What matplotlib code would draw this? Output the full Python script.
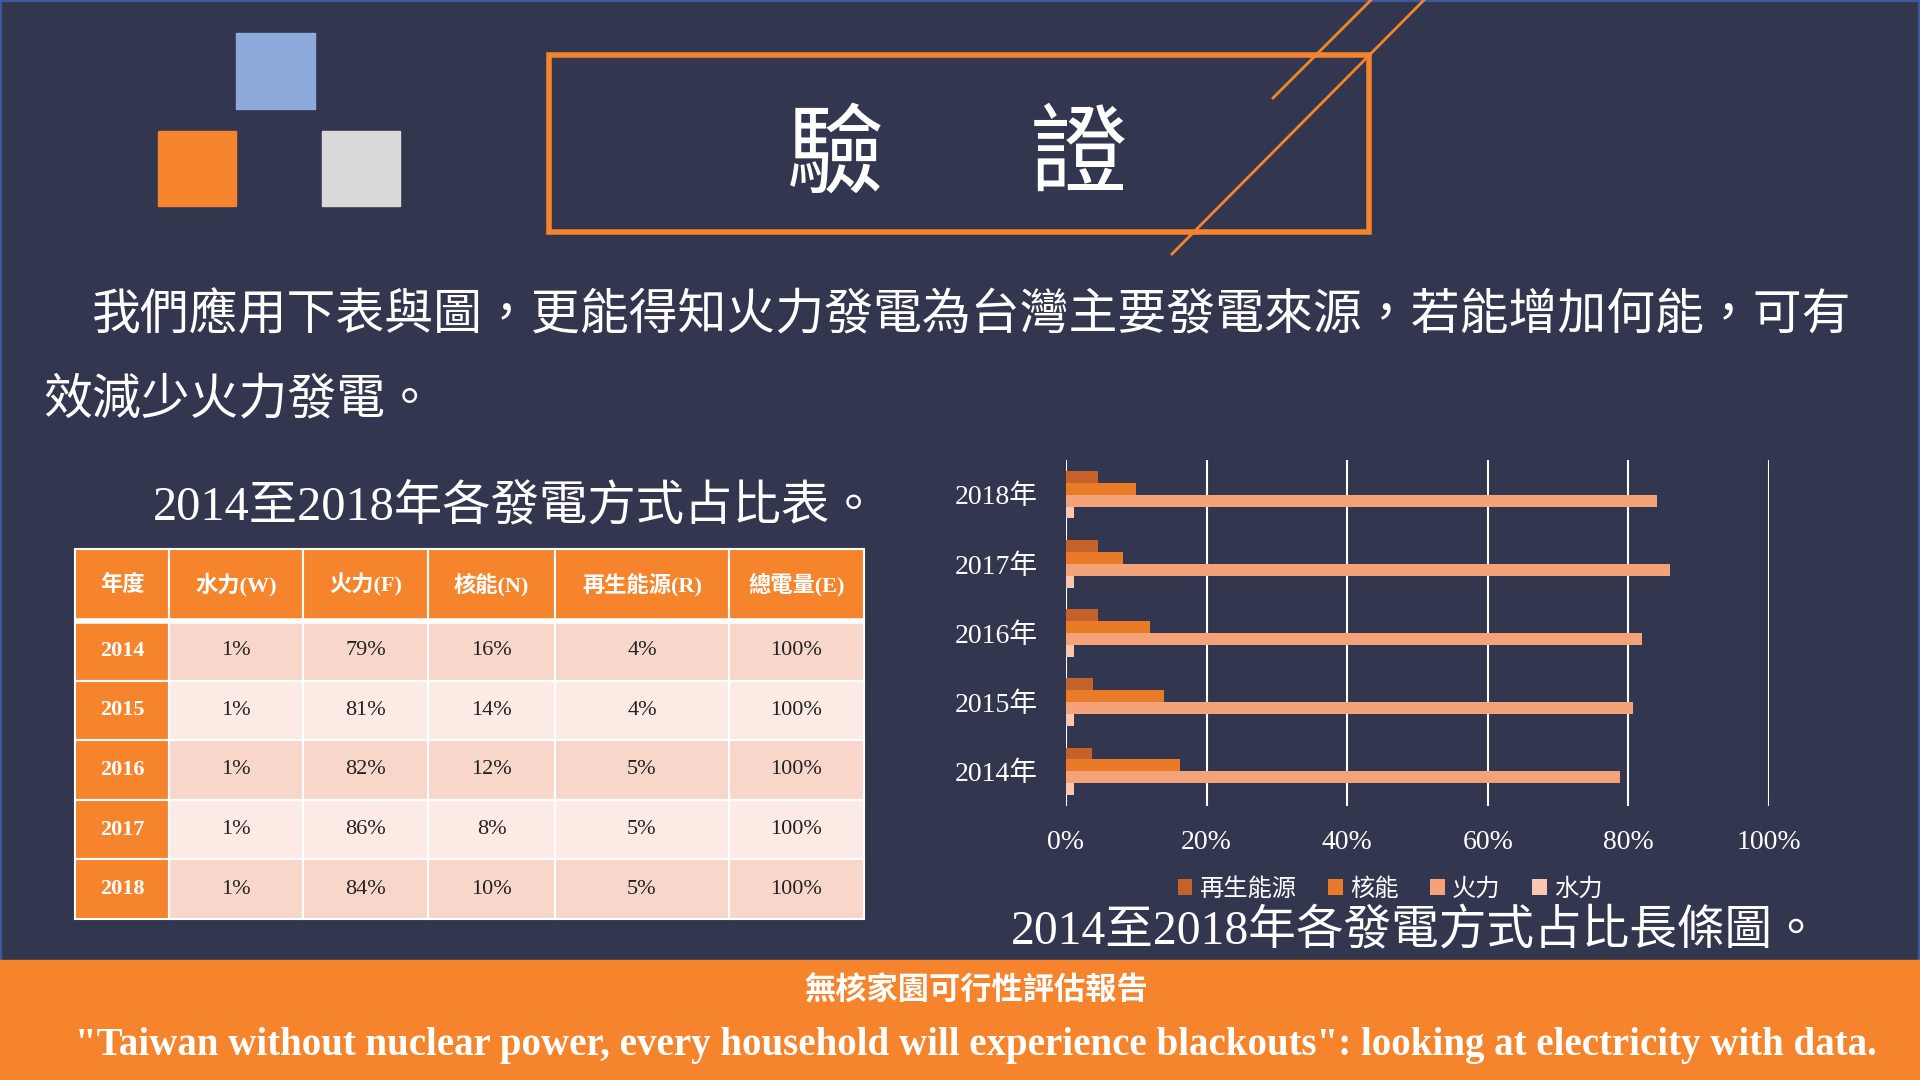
import matplotlib
matplotlib.use("Agg")
import matplotlib.pyplot as plt
import numpy as np
from matplotlib.patches import Rectangle, Patch

plt.rcParams["font.family"] = ["Liberation Serif", "Noto Sans CJK TC", "DejaVu Sans"]

BG = "#33364f"
ORANGE = "#f5842c"

# --- data ---------------------------------------------------------------
years = ["2014", "2015", "2016", "2017", "2018"]

# table: rounded shares as printed
hydro_pct = [1, 1, 1, 1, 1]
thermal_pct = [79, 81, 82, 86, 84]
nuclear_pct = [16, 14, 12, 8, 10]
renew_pct = [4, 4, 5, 5, 5]
total_pct = [100, 100, 100, 100, 100]

# bar chart: shares
renew_share = [0.037, 0.039, 0.046, 0.045, 0.045]
nuclear_share = [0.162, 0.140, 0.119, 0.081, 0.099]
thermal_share = [0.788, 0.806, 0.820, 0.859, 0.841]
hydro_share = [0.011, 0.011, 0.011, 0.011, 0.011]

table_cols = ["年度", "水力(W)", "火力(F)", "核能(N)", "再生能源(R)", "總電量(E)"]
series_names = ["再生能源", "核能", "火力", "水力"]
series_colors = ["#c5612b", "#e97a28", "#f3a377", "#f7c7b0"]

fig = plt.figure(figsize=(19.2, 10.8), dpi=100, facecolor=BG)

# %% background canvas in pixel coordinates
bg = fig.add_axes([0, 0, 1, 1])
bg.set_xlim(0, 1920)
bg.set_ylim(1080, 0)
bg.axis("off")
bg.add_patch(Rectangle((0, 0), 1920, 1080, facecolor="none", edgecolor="#3b5a9a", lw=3))

# decorative squares
bg.add_patch(Rectangle((236, 33), 79, 76, color="#8eaadc"))
bg.add_patch(Rectangle((158, 131), 78, 75, color=ORANGE))
bg.add_patch(Rectangle((322, 131), 78, 75, color="#d9d9d9"))

# title box + slashes
bg.add_patch(Rectangle((549, 55), 820, 177, facecolor="none", edgecolor=ORANGE, lw=4))
bg.plot([1273, 1371], [98, 0], color=ORANGE, lw=2)
bg.plot([1172, 1424], [254, 0], color=ORANGE, lw=2)
bg.text(957, 160, "驗　  證", color="white", fontsize=70, ha="center", va="center")

# intro paragraph
bg.text(92, 316, "我們應用下表與圖，更能得知火力發電為台灣主要發電來源，若能增加何能，可有",
        color="white", fontsize=35.2, ha="left", va="center")
bg.text(43, 400, "效減少火力發電。", color="white", fontsize=35.2, ha="left", va="center")

bg.text(153, 507, "2014至2018年各發電方式占比表。", color="white", fontsize=34.8, ha="left", va="center")
bg.text(1011, 932, "2014至2018年各發電方式占比長條圖。", color="white", fontsize=34.3, ha="left", va="center")

# footer band
bg.add_patch(Rectangle((0, 960), 1920, 120, color=ORANGE))
bg.text(976, 992, "無核家園可行性評估報告", color="white", fontsize=22.5, fontweight="bold",
        ha="center", va="center")
bg.text(976, 1045, "\"Taiwan without nuclear power, every household will experience blackouts\": "
        "looking at electricity with data.", color="white", fontsize=28, fontweight="bold",
        ha="center", va="center")

# %% table
tax = fig.add_axes([75 / 1920, 161 / 1080, 789 / 1920, 370 / 1080])
tax.axis("off")
rows = [[yr, f"{w}%", f"{f}%", f"{n}%", f"{r}%", f"{e}%"]
        for yr, w, f, n, r, e in zip(years, hydro_pct, thermal_pct, nuclear_pct, renew_pct, total_pct)]
row_fill = ["#f9d6ca", "#fcebe5"]
cell_colors = [[ORANGE] + [row_fill[i % 2]] * 5 for i in range(len(rows))]
col_w = np.array([94, 134, 125, 127, 174, 135], float)
tbl = tax.table(cellText=rows, colLabels=table_cols, cellColours=cell_colors,
                colColours=[ORANGE] * 6, colWidths=list(col_w / col_w.sum()),
                cellLoc="center", bbox=[0, 0, 1, 1])
tbl.auto_set_font_size(False)
for (r, c), cell in tbl.get_celld().items():
    cell.set_edgecolor("white")
    cell.set_linewidth(1.5)
    cell.set_height(72 if r == 0 else 59.6)
    txt = cell.get_text()
    txt.set_fontsize(16)
    if r == 0 or c == 0:
        txt.set_color("white")
        txt.set_fontweight("bold")
    else:
        txt.set_color("#222222")
tax.axhline(298 / 370, color="white", lw=4)

# %% bar chart
ax = fig.add_axes([1066 / 1920, 274 / 1080, 703 / 1920, 346 / 1080])
ax.set_facecolor("none")
y = np.arange(len(years))
h = 0.172
series = [renew_share, nuclear_share, thermal_share, hydro_share]
for vals, off, col in zip(series, [1.5, 0.5, -0.5, -1.5], series_colors):
    ax.barh(y + off * h, vals, height=h, color=col, zorder=2)
ax.set_xlim(0, 1.0)
ax.set_ylim(-0.5, 4.5)
ticks = np.linspace(0, 1, 6)
ax.set_xticks(ticks, [f"{int(round(t * 100))}%" for t in ticks])
ax.set_yticks(y, [f"{yr}年" for yr in years])
ax.xaxis.grid(True, color="white", lw=1.5, zorder=0)
for s in ax.spines.values():
    s.set_visible(False)
ax.tick_params(axis="x", length=0, colors="white", labelsize=20, pad=17)
ax.tick_params(axis="y", length=0, colors="white", labelsize=20, pad=20)

handles = [Patch(facecolor=c, label=n) for c, n in zip(series_colors, series_names)]
fig.legend(handles=handles, ncol=4, loc="center", bbox_to_anchor=(1390 / 1920, 1 - 889 / 1080),
           frameon=False, fontsize=17.5, labelcolor="white", handlelength=0.6, handleheight=0.6,
           handletextpad=0.3, columnspacing=1.3)

fig.savefig("out.png", dpi=100, facecolor=BG)
